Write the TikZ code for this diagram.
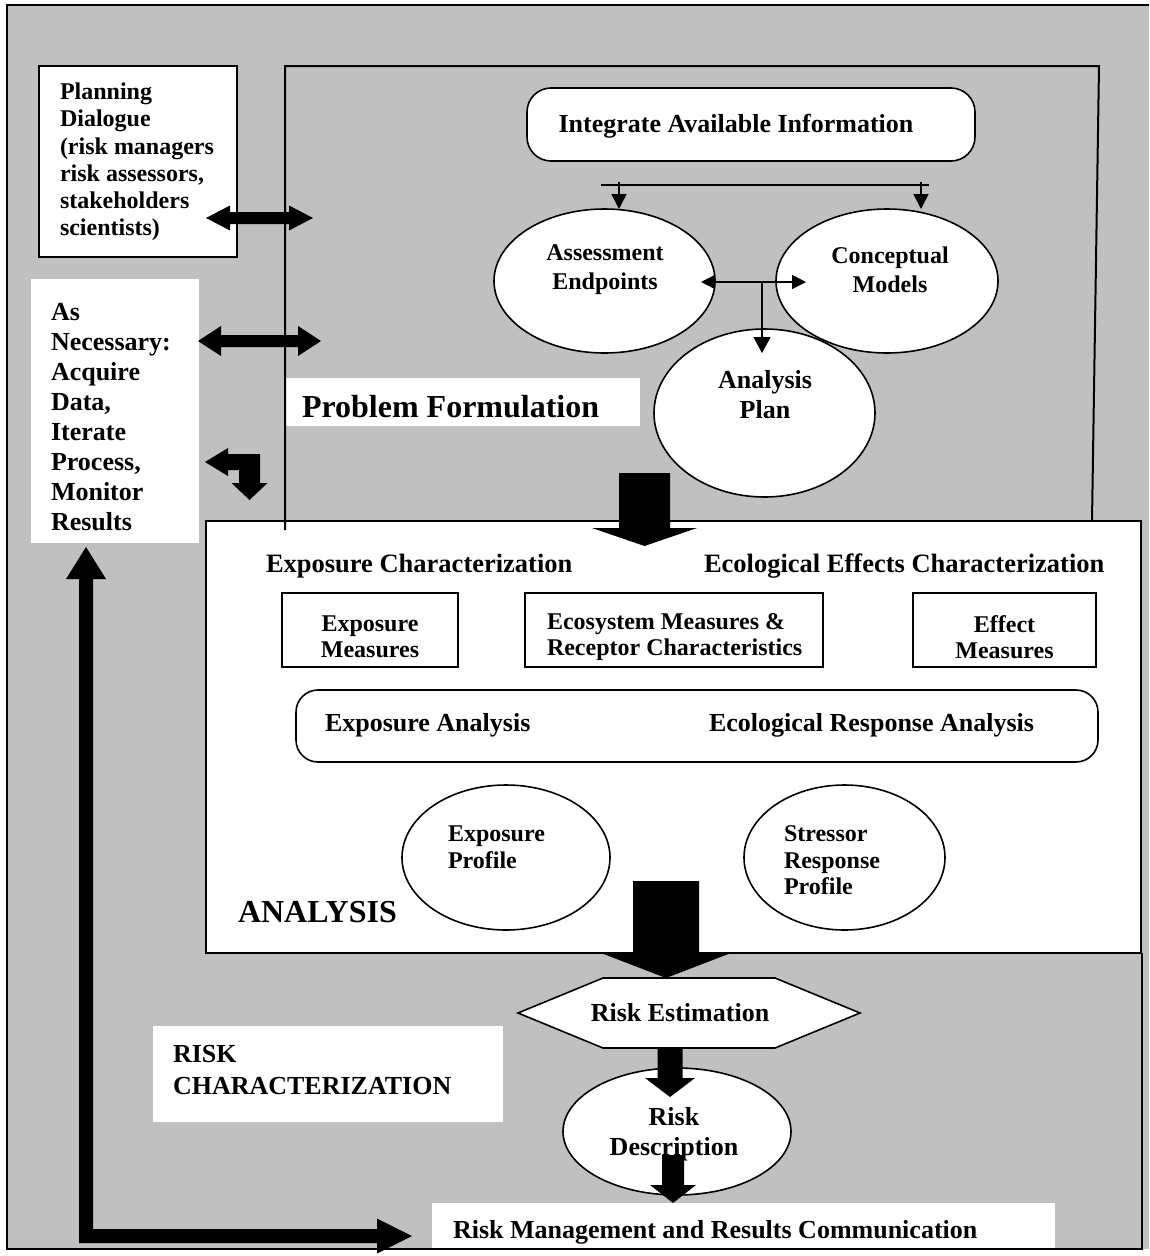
\documentclass[tikz,border=0pt]{standalone}
\usepackage{fontspec}
\setmainfont{Liberation Serif}
\usetikzlibrary{arrows.meta,shapes.geometric}
\definecolor{panel}{HTML}{C0C0C0}
\tikzset{
  fs/.style 2 args={font=\fontsize{#1}{#2}\selectfont\bfseries},
  lbl/.style={inner sep=0pt, outer sep=0pt},
  edge/.style={draw=black, line width=1.6pt},
  whitebox/.style={rectangle, fill=white, inner sep=0pt, outer sep=0pt},
  plainbox/.style={whitebox, edge},
  roundbox/.style={plainbox, rounded corners=#1},
  bubble/.style={ellipse, fill=white, edge, inner sep=0pt, outer sep=0pt},
  frameline/.style={line width=2pt, line join=miter},
  thinline/.style={line width=1.5pt},
  thinarrow/.style 2 args={thinline, -{Triangle[length=#1,width=#2]}},
  thinboth/.style 2 args={thinline, {Triangle[length=#1,width=#2]}-{Triangle[length=#1,width=#2]}},
}
\begin{document}
\begin{tikzpicture}[x=1pt,y=-1pt]
\useasboundingbox (0,0) rectangle (1149,1256);
% grey panel and outer frame
\fill[panel] (7,5) rectangle (1149,1249);
\draw[frameline] (1149,5) -- (7,5) -- (7,1249) -- (1142,1249) -- (1142,953);

% left-hand boxes
\node[plainbox, minimum width=198pt, minimum height=191pt] (pd) at (138,161.5) {};
\node[whitebox, minimum width=168pt, minimum height=264pt] (an) at (115,411) {};
\node[whitebox, minimum width=356pt, minimum height=48pt] (pflabel) at (462,402) {};

% problem formulation contents
\node[roundbox=24pt, minimum width=448pt, minimum height=73pt] (iai) at (751,124.5) {};
\node[bubble, minimum width=221pt, minimum height=144pt] (ae) at (604.5,281) {};
\node[bubble, minimum width=222pt, minimum height=144pt] (cm) at (887,281) {};
\node[bubble, minimum width=221pt, minimum height=168pt] (ap) at (764.5,413) {};

\coordinate (busL) at (601,185);
\coordinate (busR) at (929,185);
\coordinate (dropL) at (619,182);
\coordinate (dropR) at (921,182);
\draw[thinline] (busL) -- (busR);
\draw[thinarrow={15pt}{15pt}] (dropL) -- (dropL |- ae.north);
\draw[thinarrow={15pt}{15pt}] (dropR) -- (dropR |- cm.north);

\coordinate (aeHit) at (701,282);
\coordinate (cmHit) at (806,282);
\coordinate (link) at (762,282);
\coordinate (apHit) at (762,353);
\draw[thinboth={14pt}{14pt}] (aeHit) -- (cmHit);
\draw[thinarrow={16pt}{17pt}] (link) -- (apHit);

% analysis panel
\node[plainbox, minimum width=935pt, minimum height=432pt] (anbox) at (673.5,737) {};
\draw[frameline] (285,530) -- (285,66) -- (1099,66) -- (1092,521);

\node[plainbox, minimum width=176pt, minimum height=74pt] (em) at (370,630) {};
\node[plainbox, minimum width=298pt, minimum height=74pt] (er) at (674,630) {};
\node[plainbox, minimum width=183pt, minimum height=74pt] (fm) at (1004.5,630) {};
\node[roundbox=22pt, minimum width=802pt, minimum height=72pt] (ea) at (697,726) {};
\node[bubble, minimum width=208pt, minimum height=145pt] (ep) at (506,857.5) {};
\node[bubble, minimum width=201pt, minimum height=145pt] (sp) at (844.5,857.5) {};

% risk characterization
\draw[edge, fill=white] (518,1013) -- (603,978) -- (775,978) -- (860,1013) -- (775,1048) -- (603,1048) -- cycle;
\coordinate (re) at (689,1013);
\node[bubble, minimum width=228pt, minimum height=127pt] (rd) at (677,1131.5) {};
\node[whitebox, minimum width=350pt, minimum height=96pt] (rc) at (328,1074) {};
\node[whitebox, minimum width=623pt, minimum height=45pt] (rm) at (743.5,1225.5) {};

% texts
\node[lbl, fs={24}{27.2}, align=left, anchor=west] (pdtxt) at (60,162) {Planning\\Dialogue\\(risk managers\\risk assessors,\\stakeholders\\scientists)};
\node[lbl, fs={26}{30}, align=left, anchor=west] (antxt) at (51,417) {As\\Necessary:\\Acquire\\Data,\\Iterate\\Process,\\Monitor\\Results};
\node[lbl, fs={26}{30}, anchor=base] (iaitxt) at (736,132.6) {Integrate Available Information};
\node[lbl, fs={32}{36}, anchor=base west] (pftxt) at (302,417.6) {Problem Formulation};
\node[lbl, fs={24}{29}, align=center] (aetxt) at (605,269.5) {Assessment\\Endpoints};
\node[lbl, fs={24}{29}, align=center] (cmtxt) at (890,269.5) {Conceptual\\Models};
\node[lbl, fs={26}{30}, align=center] (aptxt) at (765,395) {Analysis\\Plan};
\node[lbl, fs={26.5}{30}, anchor=base west] (ectxt) at (266,572.8) {Exposure Characterization};
\node[lbl, fs={26.5}{30}, anchor=base west] (eectxt) at (704,572.8) {Ecological Effects Characterization};
\node[lbl, fs={24}{26.5}, align=center] (emtxt) at (370,637) {Exposure\\Measures};
\node[lbl, fs={24}{26.5}, align=left, anchor=west] (ertxt) at (547,637) {Ecosystem Measures \&\\Receptor Characteristics};
\node[lbl, fs={24}{26.5}, align=center] (fmtxt) at (1004.5,637) {Effect\\Measures};
\node[lbl, fs={26}{30}, anchor=base west] (eatxt) at (325,731.6) {Exposure Analysis};
\node[lbl, fs={26}{30}, anchor=base west] (eratxt) at (709,731.6) {Ecological Response Analysis};
\node[lbl, fs={24}{26.5}, align=left, anchor=west] (eptxt) at (448,847) {Exposure\\Profile};
\node[lbl, fs={24}{26.5}, align=left, anchor=west] (sptxt) at (784,860.5) {Stressor\\Response\\Profile};
\node[lbl, fs={32}{36}, anchor=base west] (antitle) at (238,922.6) {ANALYSIS};
\node[lbl, fs={26}{30}, anchor=base] (retxt) at (680,1021.6) {Risk Estimation};
\node[lbl, fs={26}{32}, align=left, anchor=west] (rctxt) at (173,1070) {RISK\\CHARACTERIZATION};
\node[lbl, fs={26}{30}, align=center] (rdtxt) at (674,1134) {Risk\\Description};
\node[lbl, fs={26}{30}, anchor=base west] (rmtxt) at (453,1238.6) {Risk Management and Results Communication};

% block arrows
\coordinate (pdTip) at (206,218);
\fill (pdTip) -- ++(24,-12.5) -- ++(0,6.5) -- ++(59,0) -- ++(0,-6.5) -- ++(24,12.5) -- ++(-24,12.5) -- ++(0,-6.5) -- ++(-59,0) -- ++(0,6.5) -- cycle;
\coordinate (anTip) at (198,341);
\fill (anTip) -- ++(23,-15) -- ++(0,9) -- ++(77,0) -- ++(0,-9) -- ++(23,15) -- ++(-23,15) -- ++(0,-9) -- ++(-77,0) -- ++(0,9) -- cycle;
\coordinate (bendTip) at (205,462);
\fill (bendTip) -- ++(23,-14) -- ++(0,6) -- ++(32,0) -- ++(0,29) -- ++(7.5,0) -- ++(-18,17) -- ++(-18,-17) -- ++(7.5,0) -- ++(0,-13) -- ++(-11,0) -- ++(0,6) -- cycle;
\coordinate (pfDown) at (644.5,473);
\fill (pfDown) ++(-25.5,0) -- ++(51,0) -- ++(0,55) -- ++(27,0) -- ++(-52.5,18) -- ++(-52.5,-18) -- ++(27,0) -- cycle;
\coordinate (anDown) at (666,881);
\fill (anDown) ++(-33,0) -- ++(66,0) -- ++(0,72) -- ++(32,0) -- ++(-65,25) -- ++(-65,-25) -- ++(32,0) -- cycle;
\coordinate (reDown) at (670,1048);
\fill (reDown) ++(-12.5,0) -- ++(25,0) -- ++(0,30) -- ++(12.5,0) -- ++(-25,19) -- ++(-25,-19) -- ++(12.5,0) -- cycle;
\coordinate (rdDown) at (673,1155);
\fill (rdDown) ++(-11,0) -- ++(22,0) -- ++(0,30) -- ++(12,0) -- ++(-23,18) -- ++(-23,-18) -- ++(12,0) -- cycle;
\coordinate (fbTip) at (86,547);
\fill (fbTip) -- ++(20,32) -- ++(-13,0) -- ++(0,650) -- ++(284,0) -- ++(0,-10.5) -- ++(35,17.5) -- ++(-35,17.5) -- ++(0,-10.5) -- ++(-298,0) -- ++(0,-664) -- ++(-13,0) -- cycle;
\end{tikzpicture}
\end{document}
